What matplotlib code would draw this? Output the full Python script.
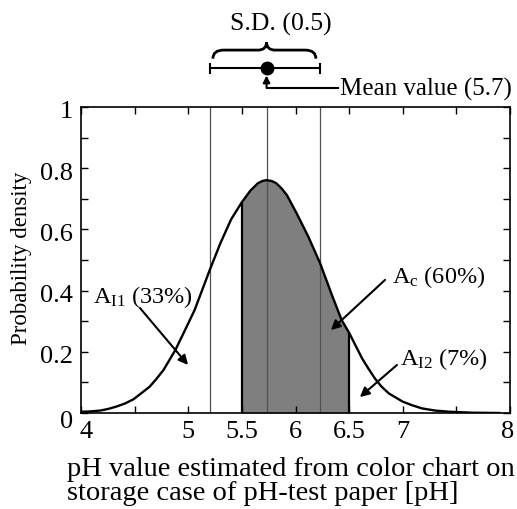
import matplotlib
matplotlib.use("Agg")
import matplotlib.pyplot as plt
from matplotlib.path import Path
from matplotlib.patches import PathPatch
from matplotlib.transforms import ScaledTranslation

plt.rcParams['font.family'] = ['Liberation Serif', 'DejaVu Serif']
plt.rcParams['mathtext.fontset'] = 'custom'
plt.rcParams['mathtext.rm'] = 'Liberation Serif'
plt.rcParams['mathtext.it'] = 'Liberation Serif:italic'

# ---- data ----
ph = [4.00, 4.08, 4.18, 4.25, 4.33, 4.41, 4.49, 4.56, 4.64, 4.70, 4.77, 4.88,
      4.97, 5.06, 5.20, 5.30, 5.40, 5.50, 5.58, 5.65, 5.69, 5.73, 5.78, 5.82,
      5.87, 5.92, 6.01, 6.12, 6.23, 6.34, 6.43, 6.50, 6.62, 6.68, 6.74, 6.80,
      6.87, 7.00, 7.09, 7.18, 7.30, 7.44, 7.65, 7.90]
density = [0.004, 0.005, 0.008, 0.013, 0.021, 0.031, 0.045, 0.064, 0.086, 0.110,
           0.141, 0.206, 0.271, 0.337, 0.467, 0.555, 0.633, 0.689, 0.727, 0.751,
           0.758, 0.761, 0.758, 0.751, 0.734, 0.712, 0.653, 0.576, 0.489, 0.385,
           0.304, 0.262, 0.179, 0.145, 0.113, 0.087, 0.064, 0.037, 0.025, 0.015,
           0.008, 0.004, 0.001, 0.000]
shade_range = [5.5, 6.5]
sd_lines = [5.2, 5.73, 6.23]
mean_value = 5.73
x_ticks = [4, 4.5, 5, 5.5, 6, 6.5, 7, 7.5, 8]
x_ticklabels = ["4", "", "5", "5.5", "6", "6.5", "7", "", "8"]
y_ticks = [0, 0.1, 0.2, 0.3, 0.4, 0.5, 0.6, 0.7, 0.8, 0.9, 1.0]
y_ticklabels = ["0", "", "0.2", "", "0.4", "", "0.6", "", "0.8", "", "1"]
area_labels = [r"A$_{\rm I1}$ (33%)", r"A$_{\rm c}$ (60%)", r"A$_{\rm I2}$ (7%)"]

FS_TICK = 19
FS_AREA = 17.5
FS_MEAN = 18
FS_SD = 18.5
FS_YLAB = 16.5
FS_XLAB = 20.5

fig = plt.figure(figsize=(5.17, 5.09), dpi=100)
ax = fig.add_axes([81/517, 1-413/509, (510-81)/517, (413-107)/509])
ax.set_xlim(4, 8)
ax.set_ylim(0, 1)

# shaded central area
xs = [x for x in ph if shade_range[0] <= x <= shade_range[1]]
ys = [y for x, y in zip(ph, density) if shade_range[0] <= x <= shade_range[1]]
ax.fill_between(xs, 0, ys, color='#7f7f7f', lw=0, zorder=1)
ax.vlines([xs[0], xs[-1]], 0, [ys[0], ys[-1]], colors='black', lw=1.6, zorder=3)

# S.D. / mean lines
ax.vlines(sd_lines, 0, 1, colors='#505050', lw=0.9, zorder=2)

# density curve
ax.plot(ph, density, color='black', lw=1.7, zorder=4, solid_joinstyle='round')

# ticks
ax.set_xticks(x_ticks)
ax.set_xticklabels(x_ticklabels)
ax.set_yticks(y_ticks)
ax.set_yticklabels(y_ticklabels)
ax.tick_params(direction='in', length=5, width=1, top=True, right=True,
               labelsize=FS_TICK, pad=6)
for s in ax.spines.values():
    s.set_linewidth(1.2)
for i, lbl in enumerate(ax.get_yticklabels()):
    dy = -6 if i == 0 else -3
    lbl.set_transform(lbl.get_transform() + ScaledTranslation(0, dy/100, fig.dpi_scale_trans))
xl0 = ax.get_xticklabels()[0]
xl0.set_transform(xl0.get_transform() + ScaledTranslation(5/100, 0, fig.dpi_scale_trans))
xl8 = ax.get_xticklabels()[-1]
xl8.set_transform(xl8.get_transform() + ScaledTranslation(-2/100, 0, fig.dpi_scale_trans))

# area annotations
arrow_kw = dict(arrowstyle='-|>', color='black', lw=1.5, mutation_scale=14,
                shrinkA=0, shrinkB=0)
ax.annotate("", xy=(4.998, 0.157), xytext=(4.55, 0.343), arrowprops=arrow_kw, zorder=6)
ax.text(4.11, 0.359, area_labels[0], fontsize=FS_AREA, ha='left', va='baseline')
ax.annotate("", xy=(6.33, 0.271), xytext=(6.835, 0.435), arrowprops=arrow_kw, zorder=6)
ax.text(6.90, 0.425, area_labels[1], fontsize=FS_AREA, ha='left', va='baseline')
ax.annotate("", xy=(6.60, 0.052), xytext=(6.946, 0.157), arrowprops=arrow_kw, zorder=6)
ax.text(6.974, 0.157, area_labels[2], fontsize=FS_AREA, ha='left', va='baseline')

# above-plot legend: S.D. bar with brace and mean marker
y_bar = 1.127
ax.plot([sd_lines[0], sd_lines[2]], [y_bar, y_bar], color='black', lw=1.5, clip_on=False)
ax.plot([sd_lines[0], sd_lines[0]], [y_bar-0.015, y_bar+0.015], color='black', lw=1.5, clip_on=False)
ax.plot([sd_lines[2], sd_lines[2]], [y_bar-0.015, y_bar+0.015], color='black', lw=1.5, clip_on=False)
ax.plot([mean_value], [y_bar], 'o', color='black', ms=9, clip_on=False)

yb0, yb1, yb2 = 1.158, 1.186, 1.212
bx0, bx1 = sd_lines[0] + 0.03, sd_lines[2] - 0.04
verts = [(bx0, yb0), (bx0, yb1), (bx0 + 0.1, yb1),
         (mean_value - 0.08, yb1),
         (mean_value, yb1), (mean_value, yb2),
         (mean_value, yb1), (mean_value + 0.08, yb1),
         (bx1 - 0.1, yb1),
         (bx1, yb1), (bx1, yb0)]
codes = [Path.MOVETO, Path.CURVE3, Path.CURVE3, Path.LINETO,
         Path.CURVE3, Path.CURVE3, Path.CURVE3, Path.CURVE3,
         Path.LINETO, Path.CURVE3, Path.CURVE3]
ax.add_patch(PathPatch(Path(verts, codes), fill=False, lw=2.0, color='black', clip_on=False))
ax.text(5.865, 1.271, "S.D. (0.5)", fontsize=FS_SD, ha='center', va='center')

# mean value pointer
ax.plot([mean_value, 6.40], [1.062, 1.062], color='black', lw=1.5, clip_on=False)
ax.annotate("", xy=(mean_value, 1.103), xytext=(mean_value, 1.063),
            arrowprops=dict(arrowstyle='-|>', color='black', lw=1.5, mutation_scale=10,
                            shrinkA=0, shrinkB=0), annotation_clip=False)
ax.text(6.415, 1.058, "Mean value (5.7)", fontsize=FS_MEAN, ha='left', va='center')

fig.text(22/517, 1-258/509, "Probability density", rotation=90, fontsize=FS_YLAB,
         ha='center', va='center')
fig.text(67/517, 1-457/509, "pH value estimated from color chart on\nstorage case of pH-test paper [pH]",
         fontsize=FS_XLAB, ha='left', va='top', linespacing=0.95)

fig.savefig("out.png", dpi=100)
